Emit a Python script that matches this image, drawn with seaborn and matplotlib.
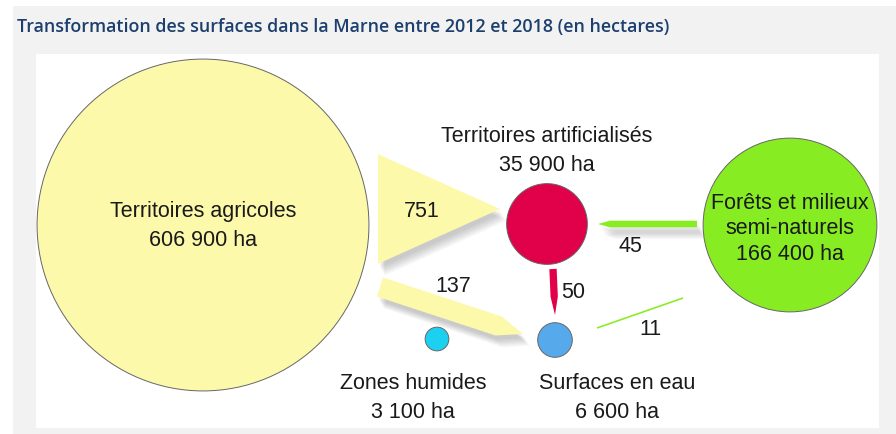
import numpy as np
import matplotlib
matplotlib.use("Agg")
import matplotlib.pyplot as plt
from matplotlib.patches import Polygon, Rectangle
import seaborn as sns

# surfaces (ha)
nodes = ["Territoires agricoles", "Territoires artificialisés", "Forêts et milieux semi-naturels",
         "Zones humides", "Surfaces en eau"]
areas = [606900, 35900, 166400, 3100, 6600]
area_labels = ["606 900 ha", "35 900 ha", "166 400 ha", "3 100 ha", "6 600 ha"]

# flux 2012-2018 (ha)
flow_src = ["Territoires agricoles", "Territoires agricoles", "Forêts et milieux semi-naturels",
            "Territoires artificialisés", "Forêts et milieux semi-naturels"]
flow_dst = ["Territoires artificialisés", "Surfaces en eau", "Territoires artificialisés",
            "Surfaces en eau", "Surfaces en eau"]
flow_vals = [751, 137, 45, 50, 11]

TITLE = "Transformation des surfaces dans la Marne entre 2012 et 2018 (en hectares)"

# layout (pixel coords)
node_xy = {
    "Territoires agricoles": (203, 226),
    "Territoires artificialisés": (547, 225),
    "Forêts et milieux semi-naturels": (790, 226),
    "Zones humides": (437, 340),
    "Surfaces en eau": (555, 341),
}
node_colors = {
    "Territoires agricoles": "#fcf9ab",
    "Territoires artificialisés": "#e1004a",
    "Forêts et milieux semi-naturels": "#88ec22",
    "Zones humides": "#1cd0f0",
    "Surfaces en eau": "#56a9ea",
}
flow_geom = {  # start, end, head fraction, label pos
    751: ((378, 210), (500, 210), 1.0, (422, 212)),
    137: ((380, 288), (523, 335), 0.17, (453, 287)),
    45: ((697, 225), (598, 225), 0.12, (630, 247)),
    50: ((553, 270), (555, 316), 0.4, (573, 293)),
    11: ((683, 299), (597, 329), 0.0, (650, 330)),
}
R_SCALE = 0.213   # px per sqrt(ha)
W_SCALE = 0.146   # px per ha
flow_color = {"Territoires agricoles": "#fcf9ab", "Territoires artificialisés": "#e1004a",
              "Forêts et milieux semi-naturels": "#88ec22"}

sns.set_theme(style="white")
plt.rcParams["font.family"] = ["Liberation Sans", "DejaVu Sans"]

W, H = 896, 435
fig = plt.figure(figsize=(W / 100, H / 100), dpi=100)
ax = fig.add_axes([0, 0, 1, 1])
ax.set_xlim(0, W)
ax.set_ylim(H, 0)
ax.axis("off")
fig.patch.set_facecolor("white")

ax.add_patch(Rectangle((13, 7), W - 13, H - 7, facecolor="#f2f2f2", edgecolor="none", zorder=0))
ax.add_patch(Rectangle((36, 55), 843, 374, facecolor="white", edgecolor="none", zorder=0.5))
ax.text(17, 27, TITLE, fontsize=12.85, color="#1c3f6e", fontweight="semibold",
        family=["Open Sans", "DejaVu Sans"], va="center", ha="left")


def flow_poly(p0, p1, w, h):
    p0, p1 = np.array(p0, float), np.array(p1, float)
    d = p1 - p0
    n = np.array([-d[1], d[0]]) / np.hypot(*d) * w / 2
    pb = p0 + d * (1 - h)
    return np.array([p0 + n, pb + n, p1, pb - n, p0 - n])


for s, t, v in zip(flow_src, flow_dst, flow_vals):
    p0, p1, h, lab = flow_geom[v]
    w = max(v * W_SCALE, 1.6)
    pts = flow_poly(p0, p1, w, h)
    if v > 20 and v != 50:
        # soft drop shadow
        for k in range(7):
            off = pts + np.array([2 + k * 0.8, 4 + k * 1.3])
            ax.add_patch(Polygon(off, closed=True, facecolor="#000000", alpha=0.03,
                                 edgecolor="none", zorder=1))
    ax.add_patch(Polygon(pts, closed=True, facecolor=flow_color[s], edgecolor="none", zorder=2))
    ax.text(lab[0], lab[1], str(v), fontsize=15.5, color="#1a1a1a", ha="center", va="center", zorder=5)

# nodes: marker size in points^2 (1 px = 0.72 pt at 100 dpi)
xs = [node_xy[n][0] for n in nodes]
ys = [node_xy[n][1] for n in nodes]
sizes = {n: (2 * R_SCALE * np.sqrt(a) * 0.72) ** 2 for n, a in zip(nodes, areas)}
sns.scatterplot(x=xs, y=ys, hue=nodes, palette=node_colors, size=nodes, sizes=sizes,
                legend=False, edgecolor="#666666", linewidth=0.7, ax=ax, zorder=3)
ax.set_xlim(0, W)
ax.set_ylim(H, 0)

txt = dict(fontsize=15.5, color="#1a1a1a", ha="center", va="center", zorder=6, linespacing=1.45)
ax.text(203, 226, "Territoires agricoles\n" + area_labels[0], **txt)
ax.text(547, 151, "Territoires artificialisés\n" + area_labels[1], **txt)
ax.text(790, 229, "Forêts et milieux\nsemi-naturels\n" + area_labels[2], **{**txt, "linespacing": 1.25})
ax.text(413, 398, "Zones humides\n" + area_labels[3], **txt)
ax.text(617, 398, "Surfaces en eau\n" + area_labels[4], **txt)

fig.savefig("out.png", dpi=100)
